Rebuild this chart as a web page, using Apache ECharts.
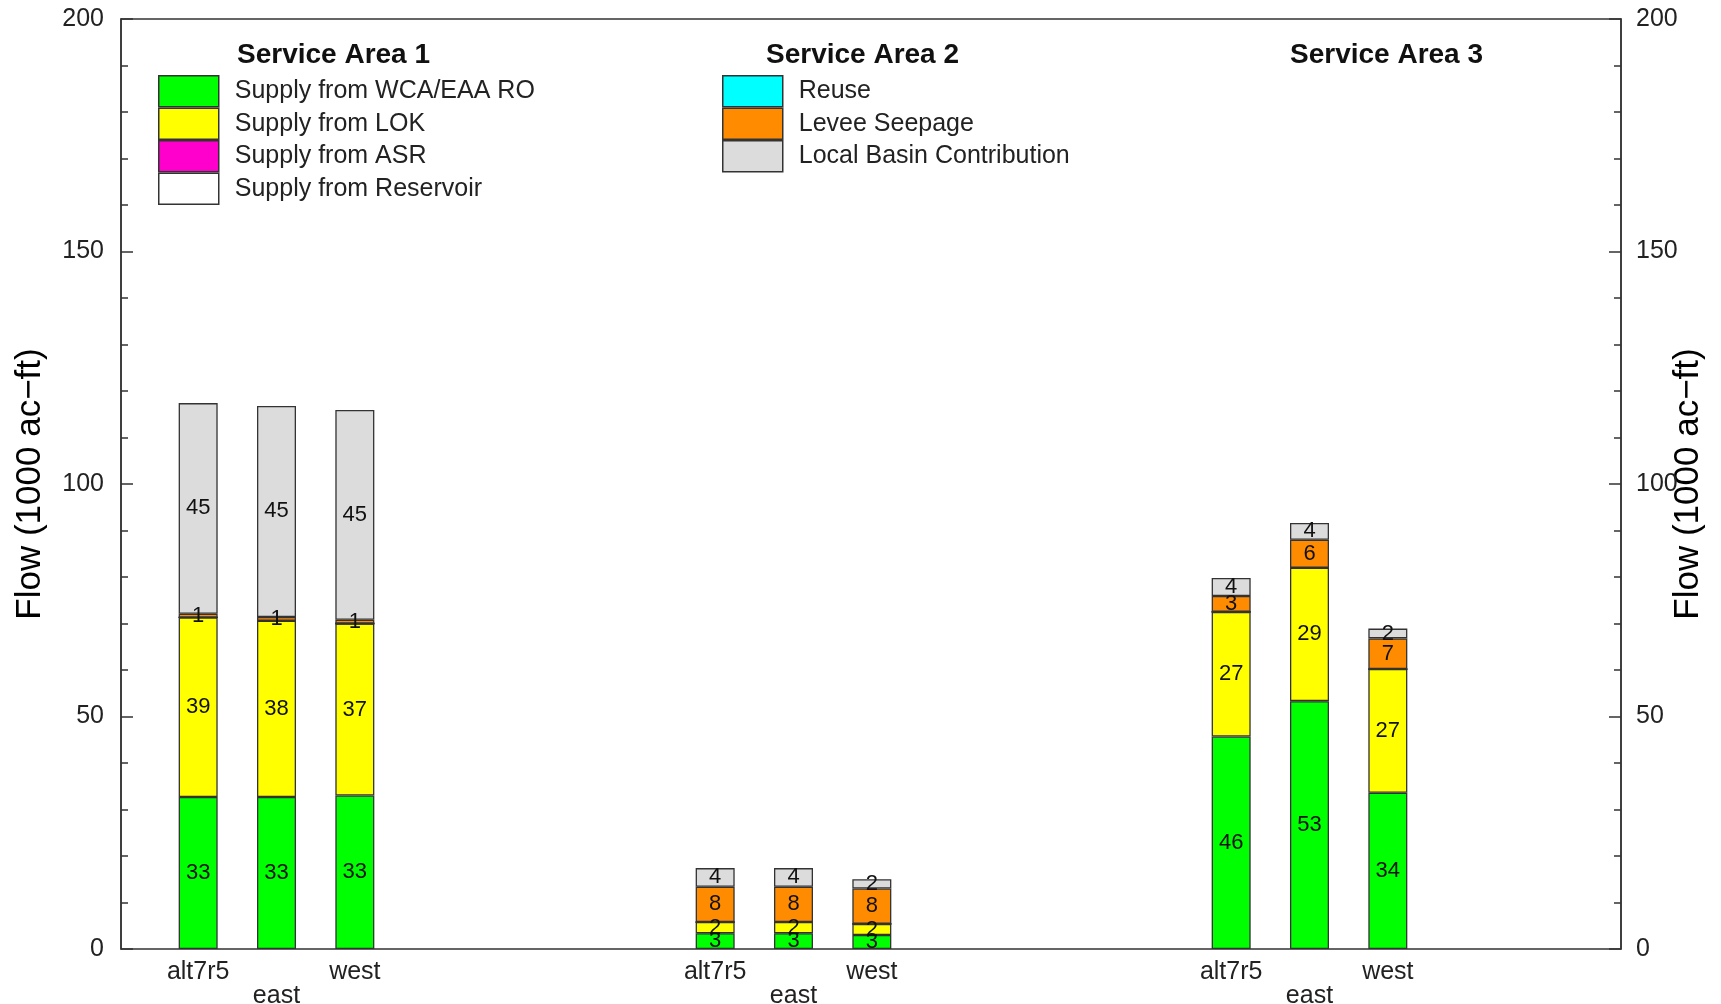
<!DOCTYPE html>
<html>
<head>
<meta charset="utf-8">
<script src="https://cdn.jsdelivr.net/npm/echarts@6/dist/echarts.min.js"></script>
<style>
html, body { margin: 0; padding: 0; background: #fff; }
#main { width: 1721px; height: 1004px; }
</style>
</head>
<body>
<div id="main"></div>
<script>
// 数据
var scenarios = ['alt7r5', 'east', 'west'];
var areaTitles = ['Service Area 1', 'Service Area 2', 'Service Area 3'];
var componentNames = ['Supply from WCA/EAA RO', 'Supply from LOK', 'Supply from ASR', 'Supply from Reservoir',
    'Reuse', 'Levee Seepage', 'Local Basin Contribution'];
var componentColors = ['#00ff00', '#ffff00', '#ff00cc', '#ffffff', '#00ffff', '#ff8c00', '#dcdcdc'];

// one row per service area, one value per scenario (1000 ac-ft)
var wcaRO = [[32.7, 32.7, 33.0], [3.4, 3.4, 3.0], [45.7, 53.3, 33.6]];
var lok = [[38.6, 37.9, 37.0], [2.4, 2.4, 2.4], [26.8, 28.7, 26.6]];
var asr = [[0, 0, 0], [0, 0, 0], [0, 0, 0]];
var reservoir = [[0, 0, 0], [0, 0, 0], [0, 0, 0]];
var reuse = [[0, 0, 0], [0, 0, 0], [0, 0, 0]];
var leveeSeepage = [[0.8, 0.8, 0.8], [7.6, 7.6, 7.6], [3.4, 6.0, 6.6]];
var localBasin = [[45.3, 45.4, 45.1], [4.0, 4.0, 2.0], [3.9, 3.6, 2.1]];

var components = [wcaRO, lok, asr, reservoir, reuse, leveeSeepage, localBasin];

var myChart = echarts.init(document.getElementById('main'));

var font = 'Liberation Sans, Arial, Helvetica, sans-serif';
var lineColor = '#333';

// 每个服务区一个 grid，放在外框 grid 里面
var barGridLeft = [159, 676, 1192];
var grids = [{ left: 121, right: 100, top: 19, bottom: 55, outerBoundsMode: 'none', show: true, borderColor: lineColor, borderWidth: 1.5 }];
var xAxes = [{ gridIndex: 0, type: 'value', min: 0, max: 1, show: false }];
var yAxisBase = {
    gridIndex: 0,
    type: 'value',
    min: 0,
    max: 200,
    interval: 50,
    name: 'Flow (1000 ac\u2212ft)',
    nameLocation: 'middle',
    nameRotate: 90,
    nameTextStyle: { fontSize: 35, color: '#000', fontFamily: font },
    axisLine: { show: true, lineStyle: { color: lineColor, width: 1.5 } },
    axisTick: { show: true, inside: true, length: 12, lineStyle: { color: lineColor, width: 1.5 } },
    minorTick: { show: true, splitNumber: 5, length: 7, lineStyle: { color: lineColor, width: 1.5 } },
    splitLine: { show: false },
    axisLabel: { fontSize: 25, color: '#222', fontFamily: font }
};
var yAxes = [
    Object.assign({}, yAxisBase, { position: 'left', nameGap: 73, axisLabel: Object.assign({}, yAxisBase.axisLabel, { margin: 17 }) }),
    // 右侧轴名与刻度标签重叠（原图如此）
    Object.assign({}, yAxisBase, { position: 'right', nameGap: 50, nameMoveOverlap: false, axisLabel: Object.assign({}, yAxisBase.axisLabel, { margin: 15 }) })
];

var series = [];
for (var a = 0; a < 3; a++) {
    grids.push({ left: barGridLeft[a], width: 235, top: 19, bottom: 55, outerBoundsMode: 'none' });
    xAxes.push({
        gridIndex: a + 1,
        type: 'category',
        data: scenarios,
        axisLine: { show: false },
        axisTick: { show: false },
        axisLabel: {
            interval: 0,
            margin: 11,
            fontSize: 25,
            lineHeight: 24,
            color: '#222',
            fontFamily: font,
            verticalAlign: 'top',
            formatter: function (value, idx) {
                return idx === 1 ? '\n' + value : value;
            }
        }
    });
    yAxes.push({ gridIndex: a + 1, type: 'value', min: 0, max: 200, show: false });

    for (var c = 0; c < components.length; c++) {
        series.push({
            name: componentNames[c],
            type: 'bar',
            xAxisIndex: a + 1,
            yAxisIndex: a + 2,
            stack: 'area' + a,
            barWidth: 39,
            data: components[c][a],
            itemStyle: { color: componentColors[c], borderColor: lineColor, borderWidth: 1.3 },
            label: {
                show: true,
                position: 'inside',
                fontSize: 22,
                color: '#111',
                fontFamily: font,
                formatter: function (p) {
                    var v = Math.round(p.value);
                    return v >= 1 ? String(v) : '';
                }
            }
        });
    }
}

var legendBase = {
    orient: 'vertical',
    itemWidth: 60,
    itemHeight: 31,
    itemGap: 0,
    padding: 0,
    icon: 'rect',
    selectedMode: false,
    itemStyle: { borderColor: lineColor, borderWidth: 1.5 },
    textStyle: { fontSize: 25, lineHeight: 26, color: '#222', fontFamily: font, padding: [0, 0, 0, 11] }
};

var titleStyle = { fontSize: 28, fontWeight: 'bold', color: '#111', fontFamily: font };

var option = {
    animation: false,
    backgroundColor: '#fff',
    textStyle: { fontFamily: font },
    title: [
        { text: areaTitles[0], left: 237, top: 41, padding: 0, textStyle: titleStyle },
        { text: areaTitles[1], left: 766, top: 41, padding: 0, textStyle: titleStyle },
        { text: areaTitles[2], left: 1290, top: 41, padding: 0, textStyle: titleStyle }
    ],
    legend: [
        Object.assign({}, legendBase, { left: 158, top: 75, data: componentNames.slice(0, 4) }),
        Object.assign({}, legendBase, { left: 722, top: 75, data: componentNames.slice(4) })
    ],
    grid: grids,
    xAxis: xAxes,
    yAxis: yAxes,
    series: series
};

myChart.setOption(option);
window.onresize = function () {
    myChart.resize();
};
</script>
</body>
</html>
